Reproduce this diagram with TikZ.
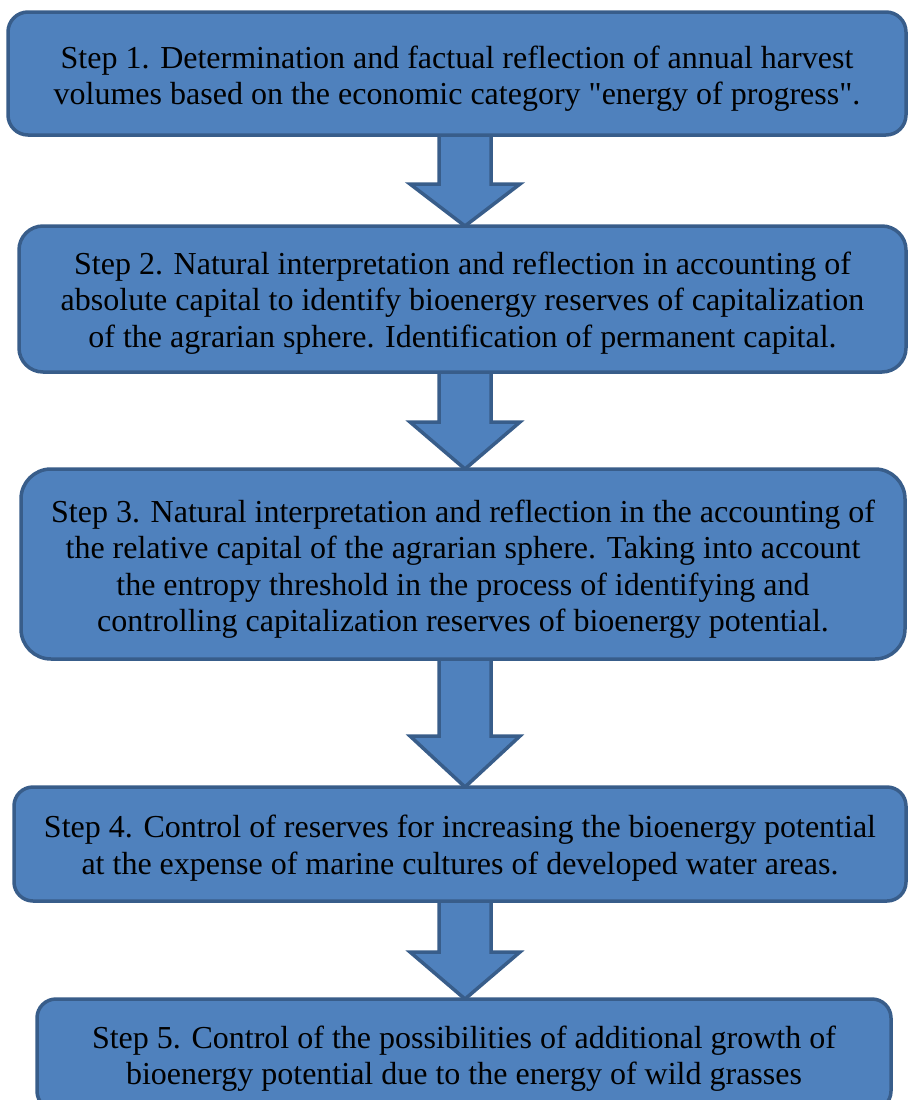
\documentclass[tikz,border=0pt]{standalone}
\usepackage{fontspec}
\setmainfont{Liberation Serif}
\usetikzlibrary{backgrounds,calc}
\definecolor{boxfill}{HTML}{4F81BD}
\definecolor{boxline}{HTML}{385D8A}
\tikzset{
  stepbox/.style={draw=boxline, fill=boxfill, line width=3.5pt, rounded corners=#1,
    inner sep=0pt, outer sep=0pt},
  steptext/.style={align=center, text=black, inner sep=0pt,
    font=\fontsize{32}{36.5}\selectfont},
  blockarrow/.style={draw=boxline, fill=boxfill, line width=3.5pt, line join=miter},
}
\newcommand{\stepArrow}[3]{%
  \path[blockarrow] let \p1=(ax |- #1.south), \p2=(ax |- #2.north) in
    (\x1-26pt,\y1+2pt) -- (\x1-26pt,\y2+#3) -- (\x1-55pt,\y2+#3) -- (\x1,\y2)
    -- (\x1+55pt,\y2+#3) -- (\x1+26pt,\y2+#3) -- (\x1+26pt,\y1+2pt) -- cycle;}
\begin{document}
\begin{tikzpicture}[x=1pt,y=-1pt]
\useasboundingbox (0,0) rectangle (910,1100);
\clip (0,0) rectangle (910,1100);
\coordinate (ax) at (465,0);
% boxes
\node[stepbox=20pt, minimum width=898pt, minimum height=123pt] (b1) at (457,73.5) {};
\node[stepbox=24pt, minimum width=887pt, minimum height=146pt] (b2) at (462.5,299) {};
\node[stepbox=30pt, minimum width=884pt, minimum height=190pt] (b3) at (463,564) {};
\node[stepbox=19pt, minimum width=892pt, minimum height=114pt] (b4) at (460,844) {};
\node[stepbox=19pt, minimum width=854pt, minimum height=111pt] (b5) at (464,1054.5) {};
% texts
\node[steptext] (t1) at ([yshift=-5pt]b1.center) {Step 1. Determination and factual reflection of annual harvest\\volumes based on the economic category \textquotedbl energy of progress\textquotedbl.};
\node[steptext] (t2) at ([yshift=-4pt]b2.center) {Step 2. Natural interpretation and reflection in accounting of\\absolute capital to identify bioenergy reserves of capitalization\\of the agrarian sphere. Identification of permanent capital.};
\node[steptext] (t3) at ([yshift=-5pt]b3.center) {Step 3. Natural interpretation and reflection in the accounting of\\the relative capital of the agrarian sphere. Taking into account\\the entropy threshold in the process of identifying and\\controlling capitalization reserves of bioenergy potential.};
\node[steptext] (t4) at ([yshift=-4pt]b4.center) {Step 4. Control of reserves for increasing the bioenergy potential\\at the expense of marine cultures of developed water areas.};
\node[steptext] (t5) at ([yshift=-4pt]b5.center) {Step 5. Control of the possibilities of additional growth of\\bioenergy potential due to the energy of wild grasses};
% arrows
\begin{scope}[on background layer]
\fill[white] (0,0) rectangle (910,1100);
\stepArrow{b1}{b2}{42pt}
\stepArrow{b2}{b3}{47pt}
\stepArrow{b3}{b4}{51pt}
\stepArrow{b4}{b5}{47pt}
\end{scope}
\end{tikzpicture}
\end{document}
